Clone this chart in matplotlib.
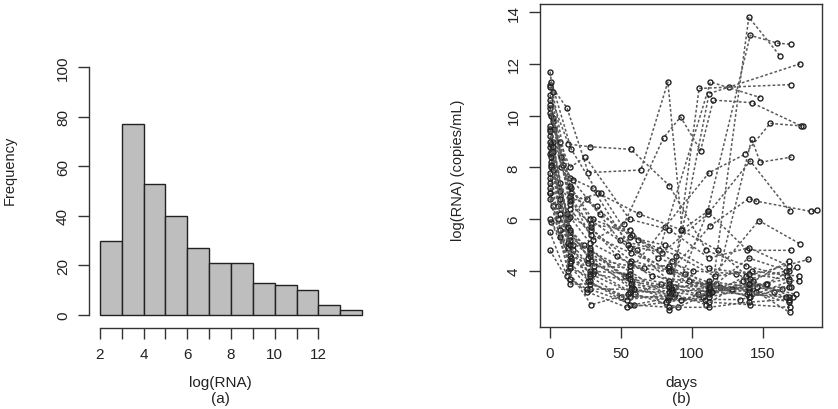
import numpy as np
import matplotlib
matplotlib.use('Agg')
import matplotlib.pyplot as plt

plt.rcParams['font.family'] = ['Liberation Sans', 'DejaVu Sans']

# histogram of log(RNA), bins of width 1 from 2 to 14
bin_edges = list(range(2, 15))
counts = [30, 77, 53, 40, 27, 21, 21, 13, 12, 10, 4, 2]

# individual trajectories: (days, log RNA)
subjects = [
    ([0, 13, 28, 57, 84, 110, 138, 167], [10.8, 8.9, 8.8, 8.7, 7.3, 4.8, 4.2, 3.8]),
    ([0, 12, 27, 64, 83, 93, 111, 141, 160, 170], [11.2, 10.3, 7.8, 7.9, 11.3, 5.6, 6.3, 13.1, 12.8, 12.75]),
    ([1, 15, 30, 52, 80, 92, 106, 115, 142, 177], [10.0, 6.8, 5.2, 5.8, 9.15, 9.95, 8.65, 10.6, 10.5, 9.6]),
    ([0, 14, 29, 58, 86, 105, 126, 170], [9.5, 5.5, 4.4, 3.4, 3.2, 11.05, 11.1, 11.2]),
    ([2, 16, 31, 60, 90, 114, 140, 162], [9.0, 5.0, 4.0, 3.1, 2.6, 3.2, 13.8, 12.3]),
    ([0, 13, 26, 49, 77, 113, 148], [8.5, 6.0, 6.8, 5.2, 4.8, 11.3, 10.7]),
    ([1, 14, 28, 56, 84, 112, 176], [8.2, 5.3, 4.8, 4.0, 3.0, 10.85, 12.0]),
    ([0, 11, 24, 53, 81, 112, 137, 155, 178], [7.6, 5.8, 5.0, 3.8, 5.7, 7.8, 8.5, 9.7, 9.6]),
    ([0, 15, 33, 61, 88, 117, 142, 148, 170], [10.3, 7.0, 6.5, 4.8, 3.4, 3.5, 9.1, 8.2, 8.4]),
    ([2, 14, 30, 55, 79, 111, 141, 169], [9.8, 7.6, 7.2, 5.0, 4.7, 6.2, 8.25, 6.3]),
    ([0, 12, 29, 57, 85, 113, 140, 145, 184, 188], [8.8, 6.2, 5.6, 4.4, 4.0, 5.75, 6.8, 6.7, 6.3, 6.35]),
    ([1, 16, 27, 50, 78, 104, 147, 176], [8.0, 4.8, 3.6, 3.0, 3.5, 3.1, 5.95, 5.05]),
    ([0, 14, 28, 59, 87, 111, 139, 170], [7.2, 4.2, 3.3, 2.7, 3.0, 6.3, 4.8, 4.8]),
    ([0, 13, 29, 55, 83, 109, 134, 163], [6.8, 4.0, 2.7, 3.1, 2.9, 2.9, 2.9, 3.3]),
    ([1, 15, 34, 63, 92, 118, 143, 171], [11.3, 8.7, 7.0, 6.2, 5.6, 4.8, 3.6, 3.0]),
    ([0, 14, 28, 57, 85, 112, 140, 168], [7.0, 5.2, 4.6, 3.3, 3.1, 3.4, 3.3, 2.9]),
    ([2, 15, 30, 58, 86, 113, 152, 174], [6.5, 4.4, 3.9, 3.6, 3.3, 3.2, 3.5, 4.15]),
    ([0, 12, 26, 54, 82, 108, 138, 182], [5.5, 3.8, 3.2, 2.6, 2.8, 3.0, 3.8, 4.45]),
    ([0, 14, 28, 56, 83, 112, 141, 169], [4.8, 3.5, 3.5, 3.0, 3.0, 2.8, 2.7, 2.6]),
    ([1, 14, 31, 66, 95, 120, 145, 169], [5.9, 4.6, 4.2, 4.1, 3.9, 3.4, 3.2, 2.4]),
    ([0, 2, 7, 14, 28, 56, 84, 112, 140, 168], [9.2, 8.6, 7.1, 6.1, 5.1, 4.3, 3.6, 3.5, 3.0, 3.6]),
    ([0, 3, 8, 15, 30, 58, 86, 113, 141, 166], [10.1, 9.5, 8.0, 7.2, 6.0, 5.4, 4.4, 3.3, 3.7, 4.0]),
    ([1, 2, 6, 13, 27, 55, 84, 111, 139, 168], [8.6, 7.9, 6.5, 4.9, 4.3, 3.8, 3.5, 3.2, 3.1, 3.0]),
    ([0, 7, 14, 29, 56, 76, 101, 131, 158], [9.4, 7.4, 6.6, 5.8, 5.6, 4.5, 4.0, 3.9, 3.2]),
    ([0, 6, 13, 28, 57, 85, 112, 140, 168], [7.8, 6.0, 5.1, 4.9, 3.5, 3.3, 3.6, 3.4, 3.7]),
    ([1, 7, 15, 28, 56, 84, 112, 141, 170], [8.9, 6.8, 4.5, 4.0, 3.9, 2.5, 3.4, 3.0, 3.4]),
    ([0, 8, 14, 29, 57, 83, 113, 140, 168], [10.6, 8.4, 6.4, 5.4, 4.7, 4.1, 3.3, 3.5, 4.4]),
    ([0, 7, 14, 28, 54, 88, 110, 136, 173], [7.4, 5.6, 4.1, 3.8, 2.9, 3.1, 2.7, 3.6, 3.1]),
    ([2, 9, 16, 35, 62, 89, 116, 142, 175], [9.9, 8.1, 7.5, 6.2, 5.2, 4.6, 3.8, 4.0, 3.8]),
    ([0, 7, 14, 25, 56, 84, 112, 140, 168], [11.1, 9.0, 8.0, 8.4, 6.0, 5.6, 4.5, 4.9, 4.2]),
    ([0, 14, 28, 56, 84, 112, 140, 168], [6.0, 4.3, 3.6, 2.7, 2.6, 2.6, 2.8, 2.9]),
    ([1, 7, 14, 28, 56, 84, 112, 140, 168], [8.4, 6.2, 5.0, 3.9, 3.2, 3.2, 3.0, 3.3, 3.4]),
    ([0, 7, 14, 26, 59, 92, 114, 146, 166], [7.0, 5.3, 3.7, 3.3, 3.3, 2.9, 3.2, 3.4, 3.0]),
    ([0, 14, 29, 47, 72, 98, 128, 153], [9.6, 6.9, 5.7, 4.6, 3.8, 3.6, 3.3, 3.5]),
    ([1, 13, 27, 56, 84, 112, 140, 168], [8.1, 5.7, 4.5, 4.2, 4.2, 3.3, 4.5, 4.0]),
    ([0, 14, 36, 56, 81, 112, 140, 175], [10.4, 6.7, 7.0, 5.3, 5.0, 4.1, 3.9, 3.6]),
    ([0, 2, 14, 28, 56, 84, 112, 140], [11.7, 10.9, 7.3, 6.0, 4.9, 4.0, 3.1, 3.5]),
    ([0, 2, 14, 28, 56, 84, 112, 140, 168], [9.0, 8.8, 5.6, 4.7, 3.7, 3.4, 3.4, 3.2, 2.8]),
]

fig = plt.figure(figsize=(8.38, 4.10), dpi=100)
axis_col = '#333333'

# (a) histogram
ax1 = fig.add_axes([0.1068, 0.2049, 0.3377, 0.6537])
ax1.hist(np.repeat(np.array(bin_edges[:-1]) + 0.5, counts), bins=bin_edges,
         color='#bebebe', edgecolor='#222222', linewidth=1.0)
ax1.set_xlim(1.52, 14.48)
ax1.set_ylim(-4, 104)
for s in ['top', 'right']:
    ax1.spines[s].set_visible(False)
ax1.spines['left'].set_bounds(0, 100)
ax1.spines['bottom'].set_bounds(2, 12)
ax1.spines['bottom'].set_position(('outward', 2))
ax1.set_xticks(range(2, 13))
ax1.set_xticklabels([str(v) if v % 2 == 0 else '' for v in range(2, 13)])
ax1.set_yticks([0, 20, 40, 60, 80, 100])
ax1.set_yticklabels(['0', '20', '40', '60', '80', '100'], rotation=90, va='center')

# (b) spaghetti plot
ax2 = fig.add_axes([0.6444, 0.2, 0.3365, 0.7878])
for days, vals in subjects:
    ax2.plot(days, vals, linestyle=(0, (1.8, 1.4)), color='#5a5a5a', linewidth=1.1,
             marker='o', markersize=3.6, markerfacecolor='none',
             markeredgecolor='#222222', markeredgewidth=1.0)
ax2.set_xlim(-7, 191.5)
ax2.set_ylim(1.84, 14.31)
ax2.set_xticks([0, 50, 100, 150])
ax2.set_yticks([4, 6, 8, 10, 12, 14])
ax2.set_yticklabels(['4', '6', '8', '10', '12', '14'], rotation=90, va='center')

for ax in (ax1, ax2):
    for s in ax.spines.values():
        s.set_color(axis_col)
        s.set_linewidth(1.0)
    ax.tick_params(direction='out', length=8, width=1.0, color=axis_col,
                   labelsize=11, labelcolor='#222222', pad=6)

fig.text(0.263, 0.065, 'log(RNA)', ha='center', va='center', fontsize=11, color='#222222')
fig.text(0.263, 0.028, '(a)', ha='center', va='center', fontsize=11, color='#222222')
fig.text(0.012, 0.585, 'Frequency', ha='center', va='center', rotation=90,
         fontsize=10.5, color='#222222')
fig.text(0.813, 0.065, 'days', ha='center', va='center', fontsize=11, color='#222222')
fig.text(0.813, 0.028, '(b)', ha='center', va='center', fontsize=11, color='#222222')
fig.text(0.546, 0.585, 'log(RNA) (copies/mL)', ha='center', va='center', rotation=90,
         fontsize=10.5, color='#222222')

fig.savefig('out.png', dpi=100)
